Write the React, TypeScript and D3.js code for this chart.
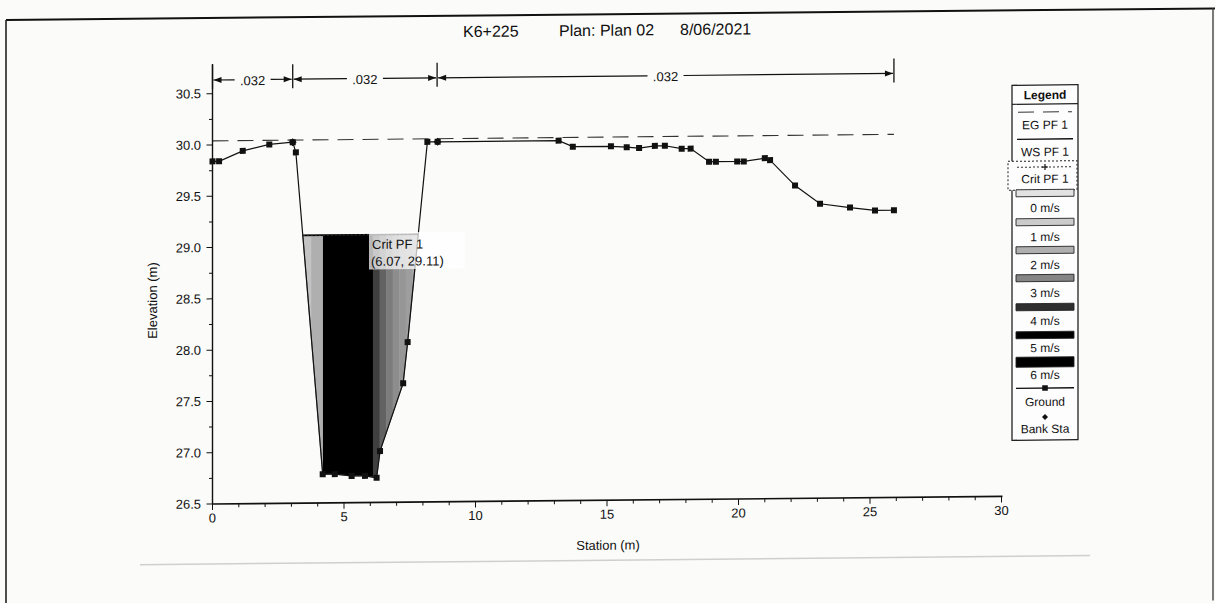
import React from "react";
import * as d3 from "d3";

// ---------------- data ----------------
const groundStations = [0, 0.25, 1.15, 2.16, 3.05, 3.17, 4.19, 4.65, 5.29, 5.8, 6.24, 6.37, 7.25, 7.42, 8.17, 8.56, 13.16, 13.7, 15.15, 15.75, 16.22, 16.82, 17.2, 17.84, 18.18, 18.88, 19.14, 19.95, 20.2, 21.0, 21.2, 22.15, 23.1, 24.24, 25.19, 25.91];
const groundElevations = [29.84, 29.84, 29.94, 30.0, 30.02, 29.92, 26.78, 26.78, 26.76, 26.76, 26.74, 27.0, 27.66, 28.06, 30.01, 30.01, 30.01, 29.95, 29.95, 29.94, 29.93, 29.95, 29.95, 29.92, 29.92, 29.79, 29.79, 29.79, 29.79, 29.82, 29.8, 29.55, 29.37, 29.33, 29.3, 29.3];
const bankStations = [3.05, 8.56];
const nBreaks = [0, 3.05, 8.54, 25.91];
const nValues = [".032", ".032", ".032"];
const egElevation = 30.04;
const wsElevation = 29.11;
const critElevation = 29.11;
const critLabel = { station: 6.07, elevation: 29.11 };
const velStripEdges = [3.3, 3.75, 4.2, 6.1, 6.35, 6.6, 6.85, 7.1, 7.35, 7.6, 8.0];
const velStripValues = [1.3, 2.0, 5.5, 3.8, 3.4, 3.1, 2.8, 2.6, 2.4, 2.2];
const velLegendLabels = ["0 m/s", "1 m/s", "2 m/s", "3 m/s", "4 m/s", "5 m/s", "6 m/s"];
const velLegendColors = ["#e2e2e2", "#cbcbcb", "#afafaf", "#858585", "#2e2e2e", "#000000", "#000000"];
const xTicks = [0, 5, 10, 15, 20, 25, 30];
const yTicks = [26.5, 27.0, 27.5, 28.0, 28.5, 29.0, 29.5, 30.0, 30.5];
const titleParts = ["K6+225", "Plan: Plan 02", "8/06/2021"];
const legendProfileLabels = ["EG PF 1", "WS PF 1", "Crit PF 1"];

// ---------------- layout ----------------
const W = 1215;
const H = 603;
const FONT = "'Liberation Sans', Arial, sans-serif";
const SKEW = 0.0096;
const X0 = 212.5;

const xScale = d3.scaleLinear().domain([0, 30]).range([212.5, 1001.5]);
const yScale = d3.scaleLinear().domain([26.5, 30.5]).range([504, 93.7]);

function waterEdges(ws: number): [number, number] {
  let left = bankStations[0];
  let right = bankStations[1];
  for (let i = 0; i < groundStations.length - 1; i++) {
    const s0 = groundStations[i], s1 = groundStations[i + 1];
    const e0 = groundElevations[i], e1 = groundElevations[i + 1];
    if (s0 >= bankStations[0] - 0.01 && s1 <= bankStations[1] + 0.01) {
      if (e0 > ws && e1 <= ws) left = s0 + ((e0 - ws) / (e0 - e1)) * (s1 - s0);
      if (e0 <= ws && e1 > ws) right = s0 + ((ws - e0) / (e1 - e0)) * (s1 - s0);
    }
  }
  return [left, right];
}

export default function App() {
  const groundPts: [number, number][] = groundStations.map((s, i) => [s, groundElevations[i]]);
  const line = d3
    .line<[number, number]>()
    .x((d) => xScale(d[0]))
    .y((d) => yScale(d[1]));

  const [wl, wr] = waterEdges(wsElevation);
  const waterPoly: [number, number][] = [[wl, wsElevation]];
  groundPts.forEach((p) => {
    if (p[0] > wl && p[0] < wr) waterPoly.push(p);
  });
  waterPoly.push([wr, wsElevation]);
  const waterPath = line(waterPoly) + "Z";

  const velColor = d3
    .scaleLinear<string>()
    .domain([0, 1, 2, 3, 4, 5, 6])
    .range(velLegendColors)
    .clamp(true);

  const xMinor = d3.range(0, 30.001, 1);
  const yMinor = d3.range(26.5, 30.501, 0.25);

  const nY = 80;
  const legendX0 = 1012;
  const legendX1 = 1078;
  const lcx = (legendX0 + legendX1) / 2;
  const barYs = [201, 230, 258, 286, 315, 343, 370];
  const barLabelYs = [216, 245, 273, 301, 329, 356, 383];

  const arrow = (x: number, dir: number) =>
    `M${x},${nY} L${x - dir * 8},${nY - 3} L${x - dir * 8},${nY + 3} Z`;

  return (
    <svg
      width={W}
      height={H}
      style={{ position: "absolute", left: 0, top: 0, display: "block" }}
      fontFamily={FONT}
    >
      <rect x={0} y={0} width={W} height={H} fill="#fbfbf9" />
      <g transform={`matrix(1, ${-SKEW}, 0, 1, 0, ${SKEW * X0})`}>
        {/* frame */}
        <line x1={6} y1={18} x2={1215} y2={18} stroke="#111" strokeWidth={2} />
        <line x1={6} y1={18} x2={6} y2={610} stroke="#222" strokeWidth={1.6} />
        <line x1={1213} y1={18} x2={1213} y2={610} stroke="#444" strokeWidth={1.4} />
        <line x1={140} y1={564} x2={1090} y2={564} stroke="#cfcfcf" strokeWidth={1.5} />

        {/* title */}
        <text y={39.5} fontSize={16} fill="#111">
          <tspan x={463}>{titleParts[0]}</tspan>
          <tspan x={559}>{titleParts[1]}</tspan>
          <tspan x={680}>{titleParts[2]}</tspan>
        </text>

        {/* velocity fill */}
        <defs>
          <clipPath id="waterClip">
            <path d={waterPath} />
          </clipPath>
        </defs>
        <g clipPath="url(#waterClip)">
          {velStripValues.map((v, i) => (
            <rect
              key={i}
              x={xScale(velStripEdges[i])}
              y={yScale(wsElevation) - 1}
              width={xScale(velStripEdges[i + 1]) - xScale(velStripEdges[i]) + 0.5}
              height={yScale(26.5) - yScale(wsElevation) + 2}
              fill={velColor(v)}
            />
          ))}
        </g>
        <path d={waterPath} fill="none" stroke="#555" strokeWidth={0.8} />

        {/* WS and Crit */}
        <line
          x1={xScale(wl)}
          x2={xScale(wr)}
          y1={yScale(wsElevation)}
          y2={yScale(wsElevation)}
          stroke="#000"
          strokeWidth={1.6}
        />
        <line
          x1={xScale(wl)}
          x2={xScale(wr)}
          y1={yScale(critElevation)}
          y2={yScale(critElevation)}
          stroke="#333"
          strokeWidth={1}
          strokeDasharray="2 2"
        />

        {/* EG */}
        <line
          x1={xScale(0)}
          x2={xScale(groundStations[groundStations.length - 1])}
          y1={yScale(egElevation)}
          y2={yScale(egElevation)}
          stroke="#333"
          strokeWidth={1.1}
          strokeDasharray="16 9"
        />

        {/* ground */}
        <path d={line(groundPts) || ""} fill="none" stroke="#111" strokeWidth={1.2} />
        {groundPts.map((p, i) => (
          <rect
            key={i}
            x={xScale(p[0]) - 3}
            y={yScale(p[1]) - 3}
            width={6}
            height={6}
            fill="#111"
          />
        ))}
        {bankStations.map((b, i) => {
          const e = groundElevations[groundStations.indexOf(b)] ?? 30;
          const cx = xScale(b);
          const cy = yScale(e);
          return (
            <path
              key={i}
              d={`M${cx},${cy - 4} L${cx + 4},${cy} L${cx},${cy + 4} L${cx - 4},${cy} Z`}
              fill="#111"
            />
          );
        })}

        {/* crit label */}
        <rect x={369} y={234} width={96} height={37} fill="#ffffff" opacity={0.72} />
        <text x={372} y={246} fontSize={13} fill="#111" dominantBaseline="central">
          Crit PF 1
        </text>
        <text x={371} y={263} fontSize={13} fill="#111" dominantBaseline="central">
          {`(${critLabel.station.toFixed(2)}, ${critLabel.elevation.toFixed(2)})`}
        </text>

        {/* axes */}
        <line x1={xScale(0)} x2={xScale(0)} y1={yScale(26.5)} y2={64} stroke="#111" strokeWidth={1.4} />
        <line x1={xScale(0)} x2={xScale(30) + 1} y1={yScale(26.5)} y2={yScale(26.5)} stroke="#111" strokeWidth={1.6} />
        {xMinor.map((t) => (
          <line
            key={"xm" + t}
            x1={xScale(t)}
            x2={xScale(t)}
            y1={yScale(26.5)}
            y2={yScale(26.5) + (t % 5 === 0 ? 6 : 3.5)}
            stroke="#111"
            strokeWidth={1}
          />
        ))}
        {xTicks.map((t) => (
          <text
            key={"xt" + t}
            x={xScale(t)}
            y={518}
            fontSize={13}
            textAnchor="middle"
            dominantBaseline="central"
            fill="#111"
          >
            {t}
          </text>
        ))}
        {yMinor.map((t) => (
          <line
            key={"ym" + t}
            x1={xScale(0)}
            x2={xScale(0) - (Math.abs(t * 2 - Math.round(t * 2)) < 1e-6 ? 6 : 3.5)}
            y1={yScale(t)}
            y2={yScale(t)}
            stroke="#111"
            strokeWidth={1}
          />
        ))}
        {yTicks.map((t) => (
          <text
            key={"yt" + t}
            x={201}
            y={yScale(t)}
            fontSize={13}
            textAnchor="end"
            dominantBaseline="central"
            fill="#111"
          >
            {t.toFixed(1)}
          </text>
        ))}
        <text
          transform={`translate(153,300) rotate(-90)`}
          fontSize={13}
          textAnchor="middle"
          dominantBaseline="central"
          fill="#111"
        >
          Elevation (m)
        </text>
        <text x={608} y={549} fontSize={13} textAnchor="middle" dominantBaseline="central" fill="#111">
          Station (m)
        </text>

        {/* manning's n bar */}
        {nBreaks.map((b, i) => (
          <line key={"nb" + i} x1={xScale(b)} x2={xScale(b)} y1={65} y2={89} stroke="#111" strokeWidth={1.3} />
        ))}
        {nValues.map((v, i) => {
          const a = xScale(nBreaks[i]);
          const b = xScale(nBreaks[i + 1]);
          const c = (a + b) / 2;
          const half = 15;
          return (
            <g key={"nv" + i}>
              <line x1={a + 1} x2={c - half - 3} y1={nY} y2={nY} stroke="#111" strokeWidth={1.2} />
              <line x1={c + half + 3} x2={b - 1} y1={nY} y2={nY} stroke="#111" strokeWidth={1.2} />
              <path d={arrow(a + 1, -1)} fill="#111" />
              <path d={arrow(b - 1, 1)} fill="#111" />
              <text x={c} y={nY + 1} fontSize={13} textAnchor="middle" dominantBaseline="central" fill="#111">
                {v}
              </text>
            </g>
          );
        })}

        {/* legend */}
        <rect x={legendX0} y={93} width={legendX1 - legendX0} height={355} fill="#fdfdfd" stroke="#222" strokeWidth={1.3} />
        <text x={lcx} y={103} fontSize={12} fontWeight="bold" textAnchor="middle" dominantBaseline="central" fill="#111">
          Legend
        </text>
        <line x1={legendX0} x2={legendX1} y1={112} y2={112} stroke="#222" strokeWidth={1.2} />
        <line x1={1018} x2={1072} y1={120} y2={120} stroke="#333" strokeWidth={1} strokeDasharray="16 9" />
        <text x={lcx} y={133} fontSize={12} textAnchor="middle" dominantBaseline="central" fill="#111">
          {legendProfileLabels[0]}
        </text>
        <line x1={1017} x2={1073} y1={147} y2={147} stroke="#111" strokeWidth={1.3} />
        <text x={lcx} y={160} fontSize={12} textAnchor="middle" dominantBaseline="central" fill="#111">
          {legendProfileLabels[1]}
        </text>
        <rect x={1008} y={169} width={69} height={29} fill="#fdfdfd" stroke="#222" strokeWidth={1} strokeDasharray="2 2" />
        <line x1={1017} x2={1073} y1={175} y2={175} stroke="#333" strokeWidth={1} strokeDasharray="2 2" />
        <path d={`M${lcx - 3},175 H${lcx + 3} M${lcx},172 V178`} stroke="#111" strokeWidth={1.2} />
        <text x={lcx} y={187} fontSize={12} textAnchor="middle" dominantBaseline="central" fill="#111">
          {legendProfileLabels[2]}
        </text>
        {velLegendLabels.map((lab, i) => {
          const h = i === 6 ? 10 : 7;
          return (
            <g key={"vl" + i}>
              <rect
                x={1016}
                y={barYs[i] - h / 2}
                width={58}
                height={h}
                fill={velLegendColors[i]}
                stroke="#222"
                strokeWidth={0.9}
              />
              <text x={lcx} y={barLabelYs[i]} fontSize={12} textAnchor="middle" dominantBaseline="central" fill="#111">
                {lab}
              </text>
            </g>
          );
        })}
        <line x1={1016} x2={1074} y1={396} y2={396} stroke="#111" strokeWidth={1.3} />
        <rect x={lcx - 2.8} y={393.2} width={5.6} height={5.6} fill="#111" />
        <text x={lcx} y={410} fontSize={12} textAnchor="middle" dominantBaseline="central" fill="#111">
          Ground
        </text>
        <path d={`M${lcx},${422} L${lcx + 3},${425} L${lcx},${428} L${lcx - 3},${425} Z`} fill="#111" />
        <text x={lcx} y={437} fontSize={12} textAnchor="middle" dominantBaseline="central" fill="#111">
          Bank Sta
        </text>
      </g>
    </svg>
  );
}
